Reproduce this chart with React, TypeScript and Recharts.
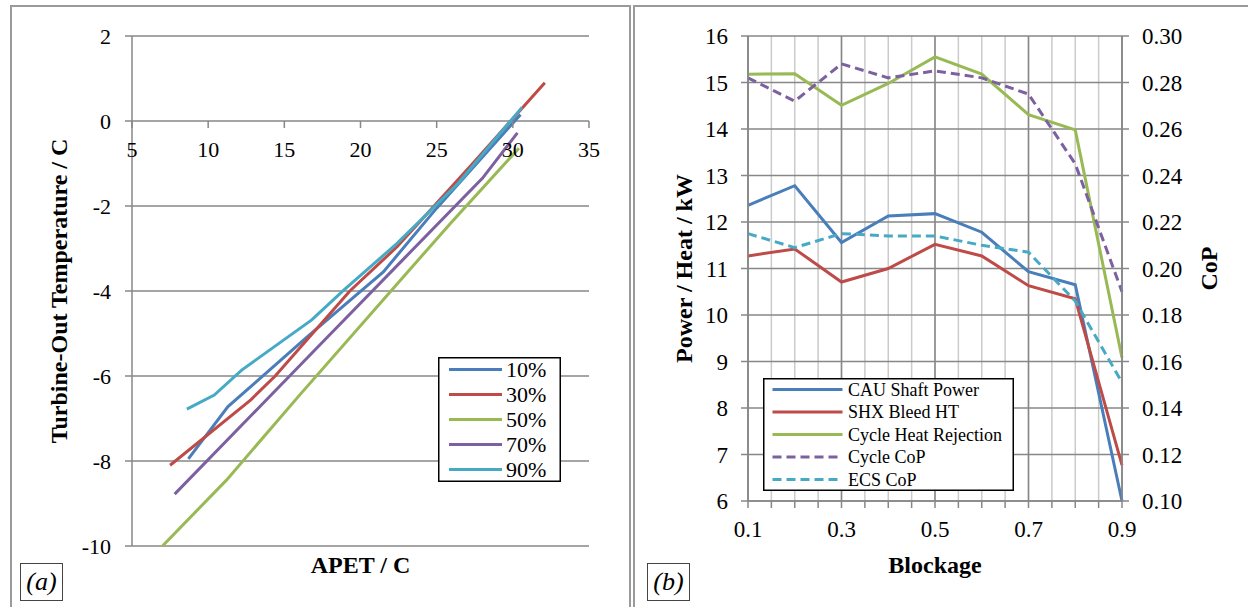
import React from 'react';
import { LineChart, Line, XAxis, YAxis, CartesianGrid, Legend, ReferenceDot } from 'recharts';

const SERIF = '"Liberation Serif", "Times New Roman", serif';
const GRID = '#878787';
const MINOR = '#cbcbcb';

const BLUE = '#4A7EBB';
const RED = '#BE4B48';
const GREEN = '#98B954';
const PURPLE = '#7D60A0';
const CYAN = '#46AAC5';

// ---- (a) turbine-out temperature vs APET ----
const apetTicks = [5, 10, 15, 20, 25, 30, 35];
const tempTicks = [-10, -8, -6, -4, -2, 0, 2];

const apet10 = [8.7, 11.3, 16.5, 21.5, 25.0, 30.5];
const tout10 = [-7.95, -6.72, -5.08, -3.55, -2.05, 0.15];
const apet30 = [7.5, 12.8, 14.4, 19.3, 22.4, 27.5, 32.1];
const tout30 = [-8.1, -6.56, -6.0, -4.0, -2.96, -0.95, 0.9];
const apet50 = [7.0, 11.2, 16.0, 22.0, 25.9, 30.4];
const tout50 = [-10.0, -8.45, -6.45, -4.0, -2.41, -0.64];
const apet70 = [7.8, 12.9, 17.9, 22.9, 28.0, 30.3];
const tout70 = [-8.78, -6.9, -5.06, -3.22, -1.35, -0.28];
const apet90 = [8.6, 10.4, 12.2, 16.8, 18.9, 22.4, 26.4, 30.6];
const tout90 = [-6.78, -6.45, -5.86, -4.68, -3.98, -2.88, -1.47, 0.32];

const pctSeries = [
  { name: '10%', color: BLUE, x: apet10, y: tout10 },
  { name: '30%', color: RED, x: apet30, y: tout30 },
  { name: '50%', color: GREEN, x: apet50, y: tout50 },
  { name: '70%', color: PURPLE, x: apet70, y: tout70 },
  { name: '90%', color: CYAN, x: apet90, y: tout90 },
];

// ---- (b) blockage sweep ----
const blockage = [0.1, 0.2, 0.3, 0.4, 0.5, 0.6, 0.7, 0.8, 0.9];
const blockageTicks = [0.1, 0.15, 0.2, 0.25, 0.3, 0.35, 0.4, 0.45, 0.5, 0.55, 0.6, 0.65, 0.7, 0.75, 0.8, 0.85, 0.9];
const blockageLabels = [0.1, 0.3, 0.5, 0.7, 0.9];
const kwTicks = [6, 7, 8, 9, 10, 11, 12, 13, 14, 15, 16];
const copTicks = [0.1, 0.12, 0.14, 0.16, 0.18, 0.2, 0.22, 0.24, 0.26, 0.28, 0.3];

const cauShaft = [12.36, 12.78, 11.56, 12.13, 12.18, 11.78, 10.93, 10.65, 6.0];
const shxBleed = [11.27, 11.42, 10.71, 11.0, 11.52, 11.27, 10.63, 10.35, 6.77];
const heatRejection = [15.18, 15.19, 14.51, 14.98, 15.55, 15.18, 14.31, 13.98, 9.08];
const cycleCop = [0.282, 0.272, 0.288, 0.282, 0.285, 0.282, 0.275, 0.245, 0.19];
const ecsCop = [0.215, 0.209, 0.215, 0.214, 0.214, 0.21, 0.207, 0.186, 0.151];

const blockageNames = ['CAU Shaft Power', 'SHX Bleed HT', 'Cycle Heat Rejection', 'Cycle CoP', 'ECS CoP'];

const blockageData = blockage.map((b, i) => ({
  b,
  cau: cauShaft[i],
  shx: shxBleed[i],
  rej: heatRejection[i],
  ccop: cycleCop[i],
  ecop: ecsCop[i],
}));

function legendBox(order: string[], w: number, h: number, first: number, step: number, lineX: [number, number], textX: number, fontSize: number) {
  return (props: any) => {
    const items = [...(props.payload || [])].sort((a: any, b: any) => order.indexOf(a.value) - order.indexOf(b.value));
    return (
      <svg width={w} height={h} style={{ display: 'block', fontFamily: SERIF }}>
        <rect x={0.75} y={0.75} width={w - 1.5} height={h - 1.5} fill="#fff" stroke="#000" strokeWidth={1.5} />
        {items.map((it: any, i: number) => {
          const y = first + i * step;
          return (
            <g key={it.value}>
              <line x1={lineX[0]} x2={lineX[1]} y1={y} y2={y} stroke={it.color} strokeWidth={3}
                strokeDasharray={it.payload?.strokeDasharray} />
              <text x={textX} y={y} dy="0.34em" fontSize={fontSize} fill="#000" fontFamily={SERIF}>{it.value}</text>
            </g>
          );
        })}
      </svg>
    );
  };
}

function ChartA() {
  return (
    <LineChart width={630} height={607} margin={{ top: 36, right: 41, bottom: 0, left: 0 }}
      style={{ fontFamily: SERIF }}>
      <CartesianGrid stroke={GRID} strokeWidth={1.5} vertical={false} />
      <XAxis type="number" dataKey="x" domain={[5, 35]} ticks={apetTicks} tick={false} tickLine={false}
        axisLine={false} height={61}
        label={{ value: 'APET / C', position: 'insideBottom', offset: 34, fill: '#000', fontSize: 24, fontWeight: 'bold' }} />
      <YAxis type="number" domain={[-10, 2]} ticks={tempTicks} width={132} tickSize={7} tickMargin={14}
        stroke={GRID} strokeWidth={1.5} tick={{ fill: '#000', fontSize: 22 }}
        label={{ value: 'Turbine-Out Temperature / C', angle: -90, position: 'center', dx: -8, fill: '#000', fontSize: 24, fontWeight: 'bold' }} />
      {apetTicks.map(t => (
        <ReferenceDot key={t} x={t} y={0} r={0} ifOverflow="visible"
          shape={(p: any) => (
            <g>
              <line x1={p.cx} x2={p.cx} y1={p.cy} y2={p.cy + 7} stroke={GRID} strokeWidth={1.5} />
              <text x={p.cx} y={p.cy + 36} textAnchor="middle" fontSize={22} fill="#000">{t}</text>
            </g>
          )} />
      ))}
      {pctSeries.map(s => (
        <Line key={s.name} name={s.name} data={s.x.map((x, i) => ({ x, y: s.y[i] }))} dataKey="y"
          type="linear" stroke={s.color} strokeWidth={3} dot={false} isAnimationActive={false} />
      ))}
      <Legend layout="vertical" align="center" verticalAlign="middle"
        wrapperStyle={{ left: 438, top: 357, width: 123, height: 125 }}
        content={legendBox(pctSeries.map(s => s.name), 123, 125, 12.5, 25, [11, 64], 68, 22)} />
    </LineChart>
  );
}

function ChartB() {
  const isMajor = (v: number) => blockageLabels.some(m => Math.abs(m - v) < 1e-6);
  return (
    <LineChart width={614} height={607} data={blockageData} margin={{ top: 36, right: 0, bottom: 0, left: 0 }}
      style={{ fontFamily: SERIF }}>
      <CartesianGrid yAxisId="kw" stroke={MINOR} strokeWidth={1.5} horizontal={false} />
      <CartesianGrid yAxisId="kw" stroke={GRID} strokeWidth={1.5} verticalValues={blockageLabels} />
      <XAxis type="number" dataKey="b" domain={[0.1, 0.9]} ticks={blockageTicks} interval={0}
        tickFormatter={(v: number) => (isMajor(v) ? v.toFixed(1) : '')}
        height={106} tickSize={7} tickMargin={13} stroke={GRID} strokeWidth={1.5}
        tick={{ fill: '#000', fontSize: 23 }}
        label={{ value: 'Blockage', position: 'insideBottom', offset: 34, fill: '#000', fontSize: 24, fontWeight: 'bold' }} />
      <YAxis yAxisId="kw" domain={[6, 16]} ticks={kwTicks} width={114} tickSize={7} tickMargin={13}
        stroke={GRID} strokeWidth={1.5} tick={{ fill: '#000', fontSize: 23 }}
        label={{ value: 'Power / Heat / kW', angle: -90, position: 'center', dx: -8, fill: '#000', fontSize: 24, fontWeight: 'bold' }} />
      <YAxis yAxisId="cop" orientation="right" domain={[0.1, 0.3]} ticks={copTicks} width={126}
        tickFormatter={(v: number) => v.toFixed(2)} tickSize={7} tickMargin={13}
        stroke={GRID} strokeWidth={1.5} tick={{ fill: '#000', fontSize: 23 }}
        label={{ value: 'CoP', angle: -90, position: 'center', dx: 23, fill: '#000', fontSize: 24, fontWeight: 'bold' }} />
      <Line yAxisId="kw" dataKey="cau" name={blockageNames[0]} stroke={BLUE} strokeWidth={3} dot={false} isAnimationActive={false} />
      <Line yAxisId="kw" dataKey="shx" name={blockageNames[1]} stroke={RED} strokeWidth={3} dot={false} isAnimationActive={false} />
      <Line yAxisId="kw" dataKey="rej" name={blockageNames[2]} stroke={GREEN} strokeWidth={3} dot={false} isAnimationActive={false} />
      <Line yAxisId="cop" dataKey="ccop" name={blockageNames[3]} stroke={PURPLE} strokeWidth={3} strokeDasharray="9 5" dot={false} isAnimationActive={false} />
      <Line yAxisId="cop" dataKey="ecop" name={blockageNames[4]} stroke={CYAN} strokeWidth={3} strokeDasharray="9 5" dot={false} isAnimationActive={false} />
      <Legend layout="vertical" align="center" verticalAlign="middle"
        wrapperStyle={{ left: 129, top: 378, width: 251, height: 113 }}
        content={legendBox(blockageNames, 251, 113, 11.5, 22.5, [9.5, 79.5], 85, 18)} />
    </LineChart>
  );
}

const tagStyle: React.CSSProperties = {
  position: 'absolute', top: 563, width: 43, height: 38, boxSizing: 'border-box',
  border: '1px solid #444', fontFamily: SERIF, fontStyle: 'italic', fontSize: 26,
  display: 'flex', alignItems: 'center', justifyContent: 'center', background: '#fff',
};

export default function App() {
  return (
    <div style={{ position: 'absolute', left: 0, top: 0, width: 1248, height: 607, background: '#fff', overflow: 'hidden' }}>
      <div style={{ position: 'absolute', left: 0, top: 0 }}><ChartA /></div>
      <div style={{ position: 'absolute', left: 634, top: 0 }}><ChartB /></div>
      <div style={{ position: 'absolute', left: 10, top: 5, width: 617, height: 620, borderLeft: '2px solid #9a9a9a', borderTop: '2px solid #9a9a9a', borderRight: '2px solid #9a9a9a', pointerEvents: 'none' }} />
      <div style={{ position: 'absolute', left: 633, top: 5, width: 640, height: 620, borderLeft: '2px solid #9a9a9a', borderTop: '2px solid #9a9a9a', pointerEvents: 'none' }} />
      <div style={{ ...tagStyle, left: 20 }}>(a)</div>
      <div style={{ ...tagStyle, left: 647 }}>(b)</div>
    </div>
  );
}
